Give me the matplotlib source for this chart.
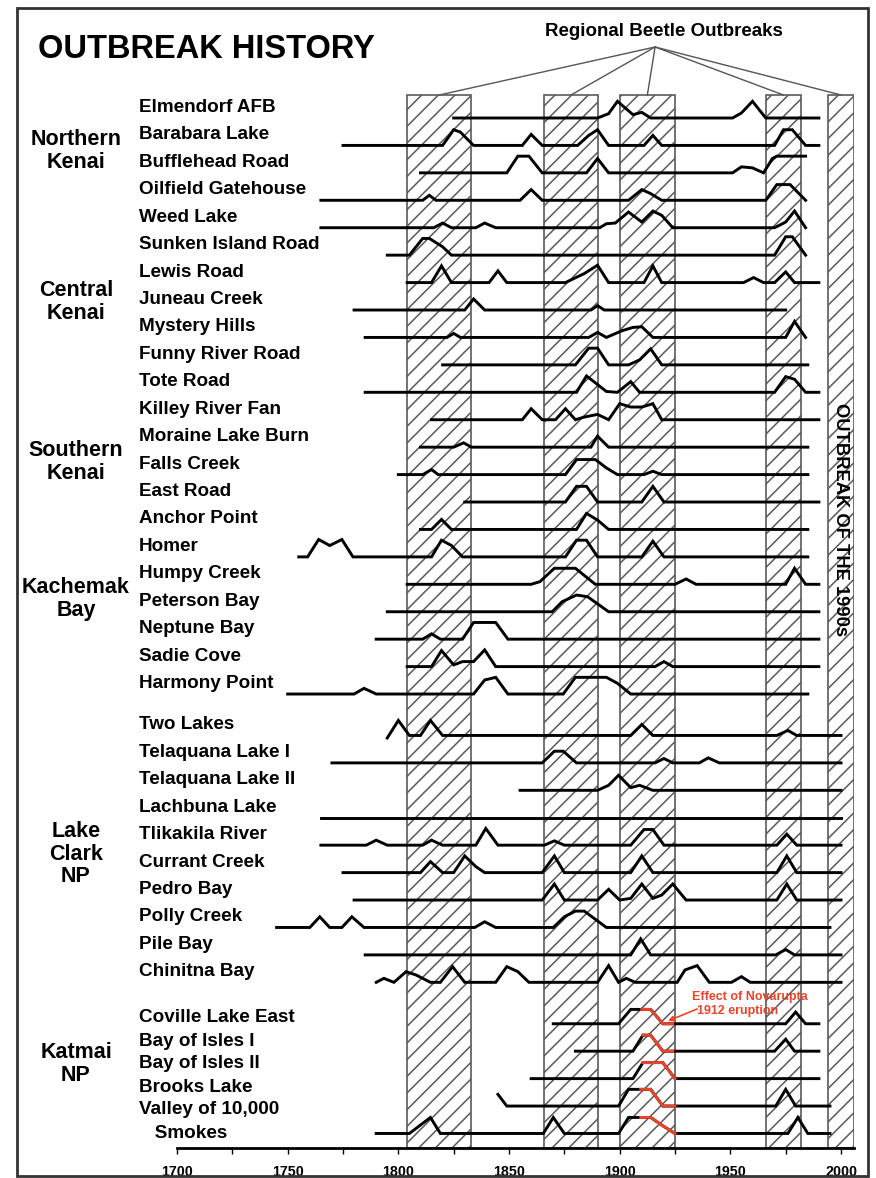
import matplotlib
matplotlib.use("Agg")
import matplotlib.pyplot as plt
from matplotlib.patches import Rectangle

# ---------------- data ----------------
sites = ["Elmendorf AFB", "Barabara Lake", "Bufflehead Road", "Oilfield Gatehouse",
         "Weed Lake", "Sunken Island Road", "Lewis Road", "Juneau Creek",
         "Mystery Hills", "Funny River Road", "Tote Road", "Killey River Fan",
         "Moraine Lake Burn", "Falls Creek", "East Road", "Anchor Point", "Homer",
         "Humpy Creek", "Peterson Bay", "Neptune Bay", "Sadie Cove", "Harmony Point",
         "Two Lakes", "Telaquana Lake I", "Telaquana Lake II", "Lachbuna Lake",
         "Tlikakila River", "Currant Creek", "Pedro Bay", "Polly Creek", "Pile Bay",
         "Chinitna Bay",
         "Coville Lake East", "Bay of Isles I", "Bay of Isles II", "Brooks Lake",
         "Valley of 10,000\n   Smokes"]

groups = ["Northern\nKenai", "Central\nKenai", "Southern\nKenai", "Kachemak\nBay",
          "Lake\nClark\nNP", "Katmai\nNP"]

# years of each vertex, one list per site
years = [
    [1825, 1890, 1895, 1899, 1906, 1910, 1914, 1951, 1955, 1960, 1966, 1990],
    [1775, 1820, 1825, 1828, 1834, 1856, 1860, 1865, 1881, 1886, 1890, 1895, 1911, 1915, 1919, 1970, 1974, 1978, 1984, 1990],
    [1810, 1849, 1854, 1859, 1865, 1885, 1890, 1895, 1951, 1955, 1960, 1965, 1969, 1971, 1984],
    [1765, 1811, 1814, 1817, 1855, 1860, 1865, 1904, 1910, 1914, 1919, 1966, 1971, 1977, 1984],
    [1765, 1816, 1820, 1824, 1835, 1839, 1844, 1891, 1894, 1898, 1904, 1910, 1915, 1919, 1924, 1970, 1975, 1979, 1984],
    [1795, 1805, 1811, 1814, 1820, 1824, 1970, 1975, 1978, 1984],
    [1804, 1815, 1819.5, 1824, 1841, 1845, 1849, 1875.5, 1884, 1890, 1895, 1911, 1915, 1919, 1956, 1960.5, 1965, 1970, 1975, 1979, 1990],
    [1780, 1830, 1834, 1839, 1887, 1890, 1893, 1975],
    [1785, 1822, 1825, 1828, 1886, 1890, 1894, 1901, 1906, 1910, 1915, 1975, 1979, 1984],
    [1820, 1880, 1886, 1890, 1895, 1904, 1909, 1914, 1919, 1985],
    [1785, 1880.5, 1885, 1894, 1899, 1905, 1909, 1970, 1975, 1979, 1984, 1990],
    [1815, 1856, 1860, 1865, 1871, 1875.5, 1880, 1884, 1890, 1895, 1900, 1905, 1910, 1915, 1919, 1990],
    [1810, 1825, 1829.5, 1833, 1887, 1890, 1895, 1985],
    [1800, 1811, 1815, 1818, 1875.5, 1880.5, 1889, 1894, 1899, 1911, 1915, 1919, 1985],
    [1830, 1875.5, 1880.5, 1885, 1890, 1910, 1915, 1920, 1990],
    [1810, 1815, 1819.5, 1824, 1880.5, 1885, 1890, 1895, 1985],
    [1755, 1759, 1764, 1769, 1774.5, 1779.5, 1815, 1819.5, 1824, 1829, 1875.5, 1880.5, 1885, 1890, 1910, 1915, 1920, 1985],
    [1804, 1860, 1864, 1870.5, 1880, 1889, 1925, 1930, 1934.5, 1975, 1979, 1984, 1990],
    [1795, 1869.5, 1874, 1880.5, 1885.5, 1895, 1990],
    [1790, 1811, 1815, 1819, 1829, 1834, 1844, 1849.5, 1990],
    [1804, 1815, 1819.5, 1825, 1829, 1834, 1839, 1844, 1916, 1920, 1924, 1990],
    [1750, 1780, 1784.5, 1790, 1834, 1839, 1844, 1849.5, 1874.5, 1880, 1894, 1899, 1905, 1985],
    [1795, 1800, 1805, 1810, 1814.5, 1820, 1905, 1910, 1915, 1971, 1976, 1980, 2000],
    [1770, 1865, 1870.5, 1874.5, 1880.5, 1916, 1920, 1924, 1936, 1940, 1945, 2000],
    [1855, 1890, 1895, 1899.5, 1905, 1909, 1915, 2000],
    [1765, 2000],
    [1765, 1785.5, 1790, 1795, 1811, 1815, 1820, 1835, 1839.5, 1845, 1866, 1870.5, 1875, 1905, 1911, 1915, 1920, 1971, 1975.5, 1980, 2000],
    [1775, 1810, 1814.5, 1820, 1825, 1830, 1835, 1839, 1865, 1870.5, 1875, 1905, 1910, 1915, 1971, 1975.5, 1980, 2000],
    [1780, 1865, 1870.5, 1875, 1890, 1895, 1900, 1905, 1910, 1915, 1919, 1924, 1930, 1971, 1975.5, 1980, 2000],
    [1745, 1760, 1764.5, 1769, 1774.5, 1779, 1784.5, 1834.5, 1839, 1844, 1870, 1875, 1880, 1884, 1888.5, 1894, 1995],
    [1785, 1905, 1909.5, 1914, 1970.5, 1975, 1979, 2000],
    [1790, 1793.5, 1798, 1803.5, 1808, 1814.5, 1819, 1824.5, 1830, 1844, 1849, 1854, 1859, 1890, 1895, 1899.5, 1903, 1907, 1926, 1929.5, 1935, 1940.5, 1950.5, 1955, 1959, 2000],
    [1870, 1899.5, 1905, 1910, 1914, 1919.5, 1924, 1975, 1979.5, 1984, 1990],
    [1880, 1906, 1910.5, 1914, 1919.5, 1924, 1970, 1975, 1979, 1990],
    [1860, 1906, 1910.5, 1919.5, 1925, 1990],
    [1845, 1849, 1899.5, 1904, 1909.5, 1914, 1919.5, 1925, 1970.5, 1975, 1979.5, 1995],
    [1790, 1805, 1814.5, 1819, 1865.5, 1870, 1875, 1899.5, 1904, 1909.5, 1914, 1919.5, 1925, 1976, 1980.5, 1985, 1995],
]

# relative outbreak signal at each vertex (1 = typical peak)
heights = [
    [0, 0, 0.26, 1.0, 0.2, 0.34, 0, 0, 0.3, 1.0, 0, 0],
    [0, 0, 0.94, 0.8, 0, 0, 0.66, 0, 0, 0.6, 0.94, 0, 0, 0.6, 0, 0, 0.94, 0.94, 0, 0],
    [0, 0, 1.0, 1.0, 0, 0, 0.86, 0, 0, 0.36, 0.3, 0, 0.86, 1.0, 1.0],
    [0, 0, 0.3, 0, 0, 0.64, 0, 0, 0.64, 0.4, 0, 0, 0.94, 0.94, 0],
    [0, 0, 0.28, 0, 0, 0.28, 0, 0, 0.24, 0.28, 0.94, 0.34, 1.0, 0.74, 0, 0, 0.34, 1.0, 0],
    [0, 0, 1.0, 1.0, 0.5, 0, 0, 1.1, 1.1, 0],
    [0, 0, 1.0, 0, 0, 0.7, 0, 0, 0.54, 1.04, 0, 0, 1.0, 0, 0, 0.3, 0, 0, 0.64, 0, 0],
    [0, 0, 0.66, 0, 0, 0.26, 0, 0],
    [0, 0, 0.24, 0, 0, 0.3, 0, 0.4, 0.6, 0.64, 0, 0, 0.96, 0],
    [0, 0, 1.0, 1.0, 0, 0, 0.3, 0.96, 0, 0],
    [0, 0, 0.98, 0.05, 0, 0.64, 0, 0, 0.94, 0.78, 0, 0],
    [0, 0, 0.66, 0, 0, 0.66, 0, 0.16, 0.32, 0, 0.96, 0.76, 0.76, 0.96, 0, 0],
    [0, 0, 0.26, 0, 0, 0.66, 0, 0],
    [0, 0, 0.3, 0, 0, 0.9, 0.9, 0.4, 0, 0, 0.2, 0, 0],
    [0, 0, 0.94, 0.94, 0, 0, 0.94, 0, 0],
    [0, 0, 0.6, 0, 0, 0.96, 0.56, 0, 0],
    [0, 0, 1.04, 0.68, 1.04, 0, 0, 1.0, 0.68, 0, 0, 1.0, 1.0, 0, 0, 0.94, 0, 0],
    [0, 0, 0.16, 0.96, 0.96, 0, 0, 0.32, 0, 0, 0.96, 0, 0],
    [0, 0, 0.6, 1.0, 0.9, 0, 0],
    [0, 0, 0.32, 0, 0, 1.0, 1.0, 0, 0],
    [0, 0, 0.96, 0.1, 0.3, 0.3, 1.0, 0, 0, 0.3, 0, 0],
    [0, 0, 0.34, 0, 0, 0.84, 1.0, 0, 0, 1.0, 1.0, 0.64, 0, 0],
    [-0.15, 0.9, 0, 0, 0.9, 0, 0, 0.66, 0, 0, 0.3, 0, 0],
    [0, 0, 0.7, 0.7, 0, 0, 0.26, 0, 0, 0.3, 0, 0],
    [0, 0, 0.3, 0.9, 0.16, 0.3, 0, 0],
    [0, 0],
    [0, 0, 0.3, 0, 0, 0.3, 0, 0, 1.0, 0, 0, 0.26, 0, 0, 0.94, 0.94, 0, 0, 0.66, 0, 0],
    [0, 0, 0.66, 0, 0, 1.0, 0.36, 0, 0, 1.0, 0, 0, 1.0, 0, 0, 1.0, 0, 0],
    [0, 0, 0.96, 0, 0, 0.64, 0, 0.1, 0.96, 0.1, 0.3, 0.96, 0, 0, 0.96, 0, 0],
    [0, 0, 0.64, 0, 0, 0.64, 0, 0, 0.34, 0, 0, 0.64, 0.98, 0.98, 0.54, 0, 0],
    [0, 0, 0.96, 0, 0, 0.32, 0, 0],
    [0, 0.24, 0, 0.64, 0.44, 0, 0, 0.94, 0, 0, 0.94, 0.64, 0, 0, 1.0, 0, 0.24, 0, 0, 0.74, 1.0, 0, 0, 0.34, 0, 0],
    [0, 0, 0.86, 0.86, 0.86, 0, 0, 0, 0.7, 0, 0],
    [0, 0, 0.96, 0.96, 0, 0, 0, 0.72, 0, 0],
    [0, 0, 0.96, 0.96, 0, 0],
    [0.7, 0, 0, 1.0, 1.0, 1.0, 0, 0, 0, 1.0, 0, 0],
    [0, 0, 0.96, 0, 0, 0.96, 0, 0, 0.96, 0.96, 0.96, 0.46, 0, 0, 0.96, 0, 0],
]

# Novarupta 1912 eruption part of the Katmai series (drawn red)
red_years = [
    [1910, 1914, 1919.5, 1924],
    [1910.5, 1914, 1919.5, 1924],
    [1910.5, 1919.5, 1925],
    [1909.5, 1914, 1919.5, 1925],
    [1909.5, 1914, 1919.5, 1925],
]
red_heights = [
    [0.86, 0.86, 0, 0],
    [0.96, 0.96, 0, 0],
    [0.96, 0.96, 0],
    [1.0, 1.0, 0, 0],
    [0.96, 0.96, 0.46, 0],
]

# regional beetle outbreak periods
outbreak_start = [1804, 1866, 1900, 1966, 1994]
outbreak_end = [1833, 1890, 1925, 1982, 2006]

# ---------------- layout ----------------
W, H = 876, 1178
RED = "#e8452c"
FONT = "Liberation Sans"
plt.rcParams["hatch.linewidth"] = 1.1

def fx(px):
    return px / W

def fy(py):
    return 1 - py / H

# group label centres (pixels from top)
group_y = [151, 302, 462, 599, 854, 1064]

row_step = 27.43
gap = 14
peak = 16.7

def baseline(i):
    extra = 0
    if i >= 22:
        extra += gap
    if i >= 32:
        extra += gap
    return 118 + row_step * i + extra

fig = plt.figure(figsize=(W / 100, H / 100), dpi=100)
ax = fig.add_axes([fx(177), fy(1148), fx(854.3) - fx(177), (1148 - 90) / H])
ax.set_xlim(1700, 2006)
ax.set_ylim(1148, 90)

# hatched outbreak bands
for x0, x1 in zip(outbreak_start, outbreak_end):
    ax.add_patch(Rectangle((x0, 95), x1 - x0, 1148 - 95, facecolor="white",
                           edgecolor="#5a5a5a", hatch="//", lw=1.2, zorder=1))

# site series
for i, (yr, h) in enumerate(zip(years, heights)):
    b = baseline(i)
    ax.plot(yr, [b - v * peak for v in h], color="black", lw=2.1,
            solid_joinstyle="miter", zorder=3, clip_on=False)

for k, (yr, h) in enumerate(zip(red_years, red_heights)):
    b = baseline(32 + k)
    ax.plot(yr, [b - v * peak for v in h], color=RED, lw=2.1,
            solid_joinstyle="miter", zorder=4, clip_on=False)

# lines from the "Regional Beetle Outbreaks" caption
apex_year = 1916
for x0, x1 in zip(outbreak_start, outbreak_end):
    ax.plot([apex_year, (x0 + x1) / 2], [47, 95], color="#555555", lw=1.0,
            clip_on=False, zorder=2)

# axis
for s in ["top", "left", "right"]:
    ax.spines[s].set_visible(False)
ax.spines["bottom"].set_linewidth(2)
ax.set_yticks([])
ax.set_xticks(range(1700, 2001, 50))
ax.set_xticks(range(1725, 2001, 50), minor=True)
ax.tick_params(axis="x", which="both", direction="out", length=4, width=1.0)
ax.tick_params(axis="x", which="major", pad=8)
for t in ax.get_xticklabels():
    t.set_fontfamily(FONT)
    t.set_fontweight("bold")
    t.set_fontsize(10.3)

# text
fig.text(fx(38), fy(50), "OUTBREAK HISTORY", fontsize=23.5, fontweight="bold",
         family=FONT, va="center", ha="left")
fig.text(fx(664), fy(31), "Regional Beetle Outbreaks", fontsize=13.5,
         fontweight="bold", family=FONT, va="center", ha="center")
fig.text(fx(840.5), fy(520), "OUTBREAK OF THE 1990s", fontsize=13.2,
         fontweight="bold", family=FONT, va="center", ha="center", rotation=-90)

for i, name in enumerate(sites):
    if i < 32:
        fig.text(fx(139), fy(baseline(i) - 10.5), name, fontsize=13.6,
                 fontweight="bold", family=FONT, va="center", ha="left")
    else:
        ly = 1018 + 23 * (i - 32)
        lines = name.split("\n")
        fig.text(fx(139), fy(ly), lines[0], fontsize=13.6, fontweight="bold",
                 family=FONT, va="center", ha="left")
        if len(lines) > 1:
            fig.text(fx(139), fy(ly + 23), lines[1], fontsize=13.6,
                     fontweight="bold", family=FONT, va="center", ha="left")

for g, gy in zip(groups, group_y):
    fig.text(fx(76), fy(gy), g, fontsize=15.5, fontweight="bold", family=FONT,
             va="center", ha="center", multialignment="center", linespacing=1.1)

# Novarupta note
fig.text(fx(692), fy(997), "Effect of Novarupta", color=RED, fontsize=9,
         fontweight="bold", family=FONT, va="center", ha="left")
fig.text(fx(697), fy(1011), "1912 eruption", color=RED, fontsize=9,
         fontweight="bold", family=FONT, va="center", ha="left")
ax.annotate("", xy=(1921.8, 1021), xytext=(1935, 1009),
            arrowprops=dict(arrowstyle="-|>", color=RED, lw=1.2, mutation_scale=8,
                            shrinkA=0, shrinkB=0), annotation_clip=False)

# outer frame
fig.patches.append(Rectangle((fx(17), fy(1176)), fx(868) - fx(17), (1176 - 8) / H,
                             transform=fig.transFigure, fill=False, lw=2,
                             edgecolor="#333333"))

fig.savefig("out.png", dpi=100)
